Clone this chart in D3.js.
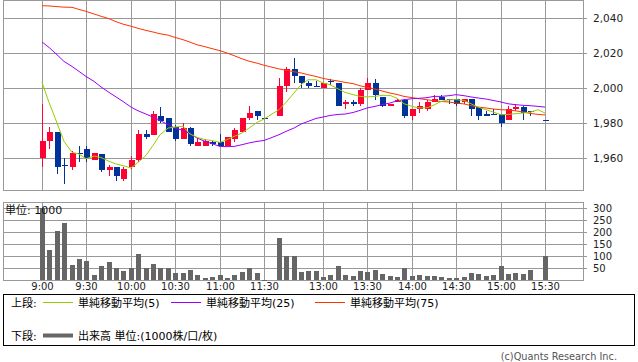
<!DOCTYPE html>
<html>
<head>
<meta charset="utf-8">
<script src="https://cdn.jsdelivr.net/npm/d3@7"></script>
<style>
  body { margin: 0; background: #fff; }
  svg { display: block; }
  text { font-family: "DejaVu Sans", "Noto Sans CJK JP", sans-serif; }
</style>
</head>
<body>
<div class="canvas"></div>
<script>
// ---------------- data (5 minute bars, slot 0 = 9:00, slot 68 = 15:30) ----------------
const open  = [1960,1970,1975,1956,1955,1963,1965,1959,1962,1953, 1955,1948,1955,1959,1974,1973,1984,1983,1978,1971,
               1977,1967,1967,1969,1969,1967,1971,1975,1983,1987, 1983,null,1984,2001,2011,2007,2003,2001,2000,2004,
               2003,1991,1992,1991,1999,2003,1995,1990,1992,1993, 1984,1988,1988,1992,1995,1994,1994,1992,1994,1989,
               1985,1985,1985,1982,1988,1989,1987,null,1982];
const high  = [1991,1978,1975,1960,1964,1967,1967,1963,1962,1956, 1955,1955,1961,1976,1976,1987,1989,1983,1979,1980,
               1978,1972,1971,1970,1974,1972,1977,1983,1990,1987, 1983,null,2006,2012,2017,2007,2004,2004,2003,2005,
               2003,1993,1993,2000,2006,2005,1995,1991,1994,1994, 1988,1992,1993,1996,1996,1994,1994,1994,1994,1989,
               1987,1988,1985,1990,1991,1990,1987,null,1982];
const low   = [1955,1965,1951,1945,1953,1958,1958,1959,1952,1950, 1947,1947,1954,1958,1971,1973,1980,1975,1970,1971,
               1967,1967,1967,1967,1967,1967,1969,1975,1982,1982, 1983,null,1984,1998,2003,2000,2000,2001,2000,2002,
               1990,1988,1990,1990,1999,1993,1989,1990,1992,1983, 1982,1986,1987,1992,1993,1991,1990,1991,1984,1982,
               1984,1985,1978,1982,1987,1982,1984,null,1982];
const close = [1970,1975,1955,1956,1963,1962,1960,1963,1953,1955, 1950,1954,1959,1974,1972,1985,1981,1975,1971,1977,
               1968,1969,1970,1968,1967,1972,1976,1983,1986,1984, 1983,null,2001,2011,2007,2003,2001,2001,2003,2004,
               1990,1992,1991,1999,2003,1996,1990,1991,1993,1984, 1988,1990,1992,1994,1993,1994,1991,1994,1988,1984,
               1984,1985,1980,1988,1989,1986,1987,null,1982];
const volume = [298,127,203,237,63,89,80,21,59,73, 51,38,48,110,48,68,51,48,31,31,
                42,21,10,13,21,10,21,35,49,31, 2,null,177,99,101,35,39,38,13,21,
                59,21,17,38,35,42,25,17,13,48, 17,21,17,17,13,8,8,13,30,25,
                17,21,59,25,30,25,42,null,101];
const ma5  = [2003.2,1991.8,1980,1969.5,1963.2,1962.3,1959.6,1961.1,1960.3,1958.1, 1956.6,1955.6,1954.3,1957.5,1961.5,1967.2,1973.3,1977.1,1977.7,1978.1,
              1973.7,1971.8,1970.5,1970,1968.9,1970.5,1972.3,1974.3,1977.1,1980.3, 1982.3,null,1987.6,1991.8,1997.1,2001.9,2004.7,2004.7,2002.9,2001.9,
              1999.5,1997.5,1996.2,1995.2,1994.9,1995.2,1995.8,1995.8,1994.1,1991, 1989.5,1988.6,1988.7,1990.3,1992.3,1993.3,1993.3,1992.9,1991,1989.1,
              1987.6,1986.3,1984.7,1984.9,1985.3,1985.7,1986.1,1987.6,1985.7];
const ma25 = [2026.3,2023.2,2019,2015.2,2012.3,2009.5,2006.6,2003.8,2000.6,1997.5, 1994.9,1992.3,1989.1,1987,1985.1,1983.4,1981.5,1979,1977.1,1975.8,
              1973.9,1971.4,1969.5,1968.2,1966.6,1966.5,1966.6,1967.6,1968.6,1969.5, 1970,null,1973.3,1975.2,1977.1,1979.4,1980.9,1982.6,1983.4,1984.3,
              1984.9,1985.1,1986,1987.2,1988.6,1989.5,1990.5,1991.4,1992.7,1993.3, 1993.9,1994.1,1994.5,1995.2,1995.2,1995.6,1996.2,1995.6,1994.9,1994.3,
              1993.7,1992.9,1992,1991,1990.5,1990.1,1989.9,1989.5,1989.1];
const ma75 = [2047,2046.9,2046.5,2046.2,2046.1,2044.9,2043.8,2042.3,2041,2039.6, 2037.9,2036.5,2035.3,2034.1,2032.9,2032,2031,2030.2,2028.9,2027.6,
              2026.2,2024.7,2023.6,2022.5,2021.3,2020,2018.5,2016.7,2015.3,2014.2, 2013,null,2010.9,2010.1,2009.3,2008.6,2007.6,2006.6,2005.5,2004.7,
              2004,2003.2,2002.5,2001.3,2000.4,1999.4,1998.3,1997.1,1996.3,1995.2, 1994.5,1993.9,1993.3,1992.7,1992.3,1992,1991.4,1990.9,1989.9,1989.1,
              1988.6,1988,1987.6,1987.4,1987,1986.3,1985.5,1984.9,1984.6];

const timeLabels = ['9:00','9:30','10:00','10:30','11:00','11:30','13:00','13:30','14:00','14:30','15:00','15:30'];
const timeSlots  = [0, 6, 12, 18, 24, 30, 38, 44, 50, 56, 62, 68];
const priceTicks = [1960, 1980, 2000, 2020, 2040];
const volTicks   = [50, 100, 150, 200, 250, 300];

// ---------------- layout ----------------
const W = 638, H = 362;
const left = 3, right = 583;
const priceBox = { y0: 0, y1: 190 };
const volBox = { y0: 202, y1: 280 };

const colUp = '#ff0033', colDown = '#003399', colGrid = '#999999';

const svg = d3.select('.canvas').append('svg')
    .attr('width', W)
    .attr('height', H);
svg.append('rect').attr('width', W).attr('height', H).attr('fill', '#fff');

// scales
const x = d3.scaleLinear().domain([0, 68]).range([42, 545]).interpolate(d3.interpolateRound);
const y = d3.scaleLinear().domain([1960, 2040]).range([158, 18]);
const yv = d3.scaleLinear().domain([0, 300]).range([280, 208]);

const bars = open.map((o, i) => ({ i, o, h: high[i], l: low[i], c: close[i], v: volume[i] }));

// ---------------- grids / axes ----------------
const gridStyle = g => {
    g.select('.domain').remove();
    g.selectAll('.tick line').attr('stroke', colGrid);
    g.selectAll('.tick text').attr('fill', '#222');
};

// vertical grid, price panel
svg.append('g')
    .attr('transform', `translate(0, ${priceBox.y1})`)
    .call(d3.axisBottom(x).tickValues(timeSlots).tickSize(-(priceBox.y1 - priceBox.y0)).tickFormat(''))
    .call(gridStyle);

// horizontal grid + price labels
svg.append('g')
    .attr('transform', `translate(${left}, 0)`)
    .call(d3.axisRight(y).tickValues(priceTicks).tickSize(right - left + 4).tickPadding(6).tickFormat(d3.format(',')))
    .call(gridStyle)
    .call(g => g.selectAll('text').attr('font-size', 10.5));

// vertical grid + time labels, volume panel
svg.append('g')
    .attr('transform', `translate(0, ${volBox.y1})`)
    .call(d3.axisBottom(x).tickValues(timeSlots).tickSize(-(volBox.y1 - volBox.y0))
        .tickPadding(3).tickFormat((d, k) => timeLabels[k]))
    .call(gridStyle)
    .call(g => g.selectAll('text').attr('font-size', 10));

// horizontal grid + volume labels
svg.append('g')
    .attr('transform', `translate(${left}, 0)`)
    .call(d3.axisRight(yv).tickValues(volTicks).tickSize(right - left + 4).tickPadding(6))
    .call(gridStyle)
    .call(g => g.selectAll('text').attr('font-size', 10));

// panel frames
[priceBox, volBox].forEach(b => {
    svg.append('rect')
        .attr('x', left + 0.5).attr('y', b.y0 + 0.5)
        .attr('width', right - left).attr('height', b.y1 - b.y0)
        .attr('fill', 'none').attr('stroke', colGrid);
});

// ---------------- candles ----------------
const candle = svg.append('g').selectAll('g')
    .data(bars.filter(d => d.o != null))
    .enter().append('g');

const col = d => d.c > d.o ? colUp : colDown;

candle.append('rect') // wick
    .attr('x', d => x(d.i))
    .attr('width', 1)
    .attr('y', d => Math.round(y(d.h)))
    .attr('height', d => Math.max(1, Math.round(y(d.l)) - Math.round(y(d.h))))
    .attr('fill', col);

candle.append('rect') // body
    .attr('x', d => x(d.i) - 2)
    .attr('width', 6)
    .attr('y', d => Math.round(y(Math.max(d.o, d.c))))
    .attr('height', d => Math.max(1, Math.round(y(Math.min(d.o, d.c))) - Math.round(y(Math.max(d.o, d.c)))))
    .attr('fill', col);

// ---------------- moving averages ----------------
const maSeries = [
    { name: '単純移動平均(75)', values: ma75, color: '#ff3300' },
    { name: '単純移動平均(25)', values: ma25, color: '#9900ff' },
    { name: '単純移動平均(5)', values: ma5, color: '#99cc00' }
];
const line = d3.line().x(d => x(d.i)).y(d => y(d.v));
maSeries.forEach(s => {
    const pts = s.values.map((v, i) => ({ i, v })).filter(d => d.v != null);
    svg.append('path')
        .attr('d', line(pts))
        .attr('fill', 'none')
        .attr('stroke', s.color)
        .attr('stroke-width', 1);
});

// ---------------- volume ----------------
svg.append('g').selectAll('rect')
    .data(bars.filter(d => d.v != null))
    .enter().append('rect')
    .attr('x', d => x(d.i) - 2)
    .attr('width', 5)
    .attr('y', d => Math.round(yv(d.v)))
    .attr('height', d => Math.max(1, volBox.y1 - Math.round(yv(d.v))))
    .attr('fill', '#666666');

svg.append('text')
    .attr('x', 5).attr('y', 214)
    .attr('font-size', 11)
    .attr('fill', '#111')
    .text('単位: 1000');

// ---------------- legend ----------------
const legend = svg.append('g');
legend.append('rect')
    .attr('x', 3.5).attr('y', 294.5)
    .attr('width', 631).attr('height', 51)
    .attr('fill', 'none').attr('stroke', '#000');

const row1 = 307, row2 = 340;
legend.append('text').attr('x', 11).attr('y', row1).attr('font-size', 11).text('上段:');
const legendItems = [
    { x: 43, s: maSeries[2] },
    { x: 171, s: maSeries[1] },
    { x: 315, s: maSeries[0] }
];
legendItems.forEach(it => {
    legend.append('line')
        .attr('x1', it.x).attr('x2', it.x + 30)
        .attr('y1', row1 - 4.5).attr('y2', row1 - 4.5)
        .attr('stroke', it.s.color).attr('stroke-width', 1);
    legend.append('text')
        .attr('x', it.x + 35).attr('y', row1)
        .attr('font-size', 11)
        .text(it.s.name);
});
legend.append('text').attr('x', 11).attr('y', row2).attr('font-size', 11).text('下段:');
legend.append('line')
    .attr('x1', 43).attr('x2', 73)
    .attr('y1', row2 - 4.5).attr('y2', row2 - 4.5)
    .attr('stroke', '#666').attr('stroke-width', 4);
legend.append('text').attr('x', 78).attr('y', row2).attr('font-size', 11).text('出来高 単位:(1000株/口/枚)');

svg.append('text')
    .attr('x', 617).attr('y', 360)
    .attr('text-anchor', 'end')
    .attr('font-size', 9.75)
    .attr('fill', '#555')
    .text('(c)Quants Research Inc.');
</script>
</body>
</html>
